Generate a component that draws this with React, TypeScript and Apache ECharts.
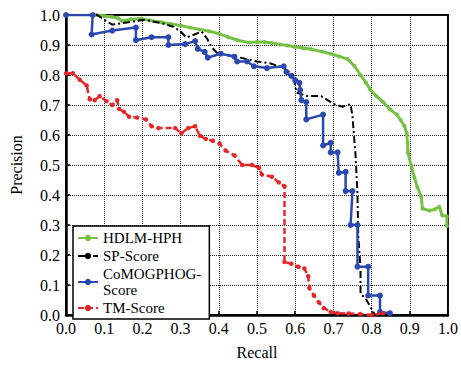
import React, { useEffect, useRef } from "react";
import * as echarts from "echarts";

const xTicks = [0, 0.1, 0.2, 0.3, 0.4, 0.5, 0.6, 0.7, 0.8, 0.9, 1.0];
const seriesNames = ["HDLM-HPH", "SP-Score", "CoMOGPHOG-Score", "TM-Score"];

const hdlm: number[][] = [
  [0.08, 1.0], [0.1, 0.997], [0.12, 0.994], [0.135, 0.99], [0.147, 0.98], [0.17, 0.986],
  [0.198, 0.988], [0.22, 0.982], [0.25, 0.976], [0.275, 0.97], [0.3, 0.965], [0.325, 0.958],
  [0.35, 0.952], [0.375, 0.946], [0.4, 0.938], [0.425, 0.926], [0.45, 0.916], [0.479, 0.908],
  [0.5, 0.91], [0.52, 0.91], [0.539, 0.907], [0.56, 0.902], [0.58, 0.898], [0.598, 0.894],
  [0.62, 0.89], [0.642, 0.886], [0.67, 0.878], [0.693, 0.871], [0.715, 0.862], [0.737, 0.853],
  [0.755, 0.83], [0.771, 0.8], [0.785, 0.775], [0.796, 0.752], [0.812, 0.73], [0.83, 0.71],
  [0.848, 0.686], [0.866, 0.668], [0.876, 0.65], [0.886, 0.63], [0.892, 0.606], [0.894, 0.575],
  [0.895, 0.542], [0.905, 0.49], [0.912, 0.458], [0.92, 0.426], [0.93, 0.394], [0.933, 0.355],
  [0.951, 0.348], [0.965, 0.352], [0.977, 0.361], [0.985, 0.332], [0.997, 0.329], [0.997, 0.297],
];

const sp: number[][] = [
  [0.0, 1.0], [0.082, 1.0], [0.1, 0.984], [0.121, 0.968], [0.17, 0.977], [0.204, 0.984],
  [0.247, 0.974], [0.281, 0.961], [0.3, 0.945], [0.315, 0.925], [0.33, 0.932], [0.355, 0.945],
  [0.37, 0.92], [0.38, 0.895], [0.397, 0.871], [0.43, 0.865], [0.466, 0.855], [0.5, 0.845],
  [0.534, 0.839], [0.57, 0.823], [0.595, 0.8], [0.603, 0.742], [0.629, 0.73], [0.668, 0.73],
  [0.701, 0.703], [0.724, 0.694], [0.745, 0.703], [0.75, 0.661], [0.758, 0.532], [0.763, 0.403],
  [0.765, 0.265], [0.771, 0.155], [0.771, 0.071], [0.784, 0.055], [0.802, 0.016], [0.809, 0.0],
];

const comog: number[][] = [
  [0.0, 1.0], [0.07, 1.0], [0.067, 0.935], [0.121, 0.948], [0.183, 0.958], [0.183, 0.916],
  [0.224, 0.926], [0.268, 0.926], [0.268, 0.9], [0.312, 0.903], [0.338, 0.913], [0.345, 0.887],
  [0.363, 0.877], [0.371, 0.858], [0.405, 0.871], [0.441, 0.861], [0.448, 0.845], [0.474, 0.845],
  [0.492, 0.829], [0.526, 0.823], [0.57, 0.829], [0.577, 0.81], [0.59, 0.797], [0.6, 0.782],
  [0.611, 0.774], [0.613, 0.75], [0.616, 0.716], [0.629, 0.71], [0.629, 0.652], [0.673, 0.668],
  [0.673, 0.565], [0.693, 0.574], [0.693, 0.542], [0.711, 0.542], [0.714, 0.474], [0.732, 0.477],
  [0.732, 0.413], [0.75, 0.413], [0.745, 0.3], [0.763, 0.3], [0.763, 0.161], [0.791, 0.161],
  [0.791, 0.065], [0.822, 0.065], [0.822, 0.01], [0.848, 0.006],
];

const tm: number[][] = [
  [0.0, 0.805], [0.018, 0.806], [0.036, 0.784], [0.054, 0.765], [0.062, 0.719], [0.075, 0.716],
  [0.088, 0.729], [0.106, 0.713], [0.121, 0.7], [0.134, 0.716], [0.139, 0.687], [0.152, 0.677],
  [0.165, 0.661], [0.186, 0.658], [0.209, 0.652], [0.224, 0.629], [0.242, 0.623], [0.286, 0.623],
  [0.302, 0.606], [0.32, 0.623], [0.338, 0.629], [0.351, 0.597], [0.366, 0.587], [0.384, 0.581],
  [0.402, 0.571], [0.418, 0.548], [0.441, 0.532], [0.461, 0.5], [0.487, 0.5], [0.505, 0.49],
  [0.513, 0.468], [0.539, 0.461], [0.557, 0.442], [0.572, 0.429], [0.572, 0.177], [0.59, 0.171],
  [0.608, 0.161], [0.624, 0.155], [0.634, 0.129], [0.637, 0.09], [0.649, 0.065], [0.662, 0.042],
  [0.675, 0.023], [0.693, 0.01], [0.711, 0.006], [0.74, 0.005], [0.77, 0.003], [0.8, 0.0],
  [0.83, 0.006],
];

const FONT = "Liberation Serif";

export default function App() {
  const ref = useRef<HTMLDivElement>(null);
  useEffect(() => {
    if (!ref.current) return;
    const chart = echarts.init(ref.current, null, { renderer: "svg" });
    const axisCommon = {
      type: "value" as const,
      min: 0,
      max: 1,
      interval: 0.1,
      axisLine: { show: true, lineStyle: { color: "#000", width: 2.5 } },
      axisTick: { show: true, inside: true, length: 4, lineStyle: { color: "#000", width: 1.5 } },
      splitLine: { show: true, lineStyle: { color: "#222", type: "dotted" as const, width: 1 } },
      axisLabel: {
        color: "#000",
        fontSize: 16,
        fontFamily: FONT,
        formatter: (v: number) => v.toFixed(1),
      },
      nameTextStyle: { color: "#000", fontSize: 16, fontFamily: FONT },
    };
    chart.setOption({
      animation: false,
      backgroundColor: "#fff",
      textStyle: { fontFamily: FONT },
      grid: {
        left: 61,
        right: 12,
        top: 15,
        bottom: 40,
        show: true,
        borderColor: "#000",
        borderWidth: 2,
      },
      xAxis: {
        ...axisCommon,
        name: "Recall",
        nameLocation: "middle",
        nameGap: 29,
        axisLabel: { ...axisCommon.axisLabel, margin: 5 },
      },
      yAxis: {
        ...axisCommon,
        name: "Precision",
        nameLocation: "middle",
        nameGap: 42,
        axisLabel: { ...axisCommon.axisLabel, margin: 6 },
      },
      legend: {
        orient: "vertical",
        left: 73,
        top: 226,
        itemGap: 2,
        itemWidth: 20,
        itemHeight: 8,
        padding: [4, 8, 3, 4],
        borderColor: "#000",
        borderWidth: 1.5,
        backgroundColor: "#fff",
        data: seriesNames,
        textStyle: { color: "#000", fontSize: 15, fontFamily: FONT, lineHeight: 16 },
        formatter: (n: string) => (n === "CoMOGPHOG-Score" ? "CoMOGPHOG-\nScore" : n),
      },
      series: [
        {
          name: seriesNames[0],
          type: "line",
          data: hdlm,
          z: 2,
          color: "#76c043",
          symbol: "circle",
          symbolSize: 4,
          lineStyle: { width: 3, color: "#76c043" },
          itemStyle: { color: "#76c043" },
        },
        {
          name: seriesNames[1],
          type: "line",
          data: sp,
          z: 3,
          color: "#000",
          symbol: "none",
          lineStyle: { width: 2, color: "#000", type: [7, 3, 2, 3] },
        },
        {
          name: seriesNames[2],
          type: "line",
          data: comog,
          z: 4,
          color: "#2b48b0",
          symbol: "circle",
          symbolSize: 6,
          lineStyle: { width: 2.5, color: "#2b48b0" },
          itemStyle: { color: "#2b48b0" },
        },
        {
          name: seriesNames[3],
          type: "line",
          data: tm,
          z: 5,
          color: "#e8262a",
          symbol: "circle",
          symbolSize: 4.5,
          lineStyle: { width: 2.5, color: "#e8262a", type: [6, 3] },
          itemStyle: { color: "#e8262a" },
        },
      ],
    });
    return () => chart.dispose();
  }, []);
  return (
    <div
      ref={ref}
      style={{ position: "fixed", left: 0, top: 0, width: 461, height: 365, background: "#fff" }}
    />
  );
}
